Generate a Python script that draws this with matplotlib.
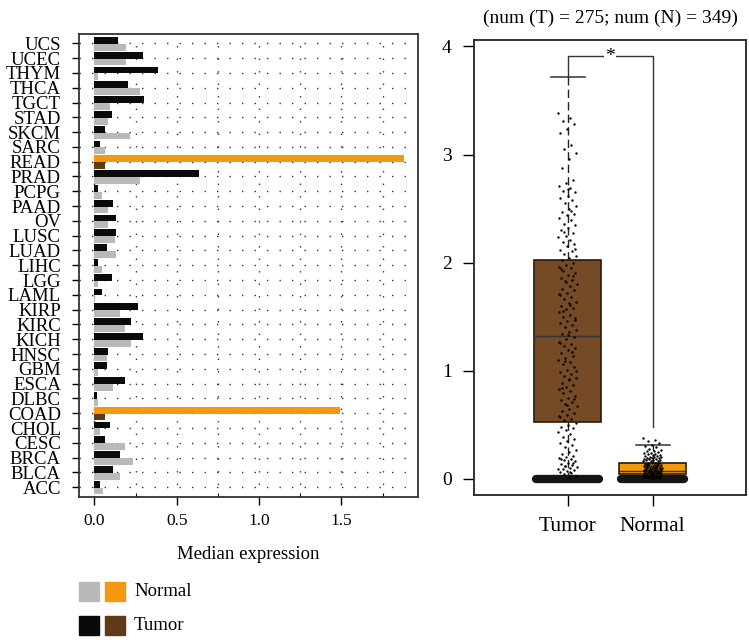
import numpy as np
import matplotlib
matplotlib.use("Agg")
import matplotlib.pyplot as plt
from matplotlib.patches import Rectangle

plt.rcParams['font.family'] = ['Liberation Serif', 'DejaVu Serif']

# cancer types, bottom to top
cancers = ["ACC", "BLCA", "BRCA", "CESC", "CHOL", "COAD", "DLBC", "ESCA", "GBM",
           "HNSC", "KICH", "KIRC", "KIRP", "LAML", "LGG", "LIHC", "LUAD", "LUSC",
           "OV", "PAAD", "PCPG", "PRAD", "READ", "SARC", "SKCM", "STAD", "TGCT",
           "THCA", "THYM", "UCEC", "UCS"]
tumor_median = [0.034, 0.113, 0.156, 0.065, 0.095, 0.065, 0.016, 0.186, 0.077,
                0.083, 0.296, 0.223, 0.265, 0.047, 0.107, 0.022, 0.077, 0.132,
                0.132, 0.113, 0.022, 0.636, 0.065, 0.034, 0.065, 0.107, 0.302,
                0.204, 0.387, 0.296, 0.144]
normal_median = [0.053, 0.156, 0.235, 0.186, 0.034, 1.492, 0.022, 0.113, 0.022,
                 0.077, 0.223, 0.186, 0.156, 0.004, 0.022, 0.047, 0.132, 0.126,
                 0.083, 0.083, 0.047, 0.277, 1.877, 0.065, 0.217, 0.083, 0.095,
                 0.277, 0.022, 0.192, 0.192]
highlighted = ["COAD", "READ"]

# boxplot stats (right panel)
groups = ["Tumor", "Normal"]
box_q1 = [0.53, 0.045]
box_med = [1.32, 0.07]
box_q3 = [2.02, 0.147]
whisk_lo = [0.0, 0.0]
whisk_hi = [3.72, 0.31]

tumor_points = [3.38, 3.34, 3.31, 3.28, 3.24, 3.20, 3.09, 3.05, 3.01, 2.96, 2.88,
                2.76, 2.74, 2.71, 2.69, 2.66, 2.65, 2.62, 2.60, 2.58, 2.55, 2.52,
                2.50, 2.47, 2.45, 2.44, 2.41, 2.39, 2.36, 2.35, 2.32, 2.30, 2.27,
                2.25, 2.24, 2.21, 2.19, 2.17, 2.15, 2.12, 2.11, 2.08, 2.06, 2.04,
                2.02, 2.00, 1.98, 1.96, 1.95, 1.92, 1.90, 1.89, 1.86, 1.84, 1.83,
                1.80, 1.78, 1.76, 1.75, 1.72, 1.70, 1.68, 1.66, 1.64, 1.63, 1.60,
                1.58, 1.57, 1.54, 1.52, 1.50, 1.49, 1.46, 1.44, 1.42, 1.40, 1.38,
                1.36, 1.34, 1.31, 1.29, 1.27, 1.25, 1.23, 1.21, 1.19, 1.16, 1.14,
                1.12, 1.10, 1.08, 1.06, 1.03, 1.01, 0.99, 0.97, 0.95, 0.93, 0.91,
                0.89, 0.87, 0.85, 0.83, 0.81, 0.79, 0.77, 0.75, 0.73, 0.71, 0.69,
                0.67, 0.65, 0.63, 0.61, 0.59, 0.57, 0.55, 0.54, 0.52, 0.50, 0.48,
                0.47, 0.45, 0.43, 0.41, 0.39, 0.37, 0.35, 0.33, 0.31, 0.29, 0.27,
                0.25, 0.23, 0.21, 0.20, 0.19, 0.18, 0.17, 0.16, 0.15, 0.14, 0.13,
                0.12, 0.11, 0.10, 0.09, 0.08, 0.07, 0.06, 0.05, 0.04, 0.03, 0.02,
                1.94, 1.88, 1.82, 1.71, 1.61, 1.55, 1.47, 1.33, 1.26, 1.17, 1.09,
                1.00, 0.92, 0.84, 0.74, 0.68, 0.58, 2.48, 2.28, 2.13, 2.68, 0.18,
                0.15, 0.12, 0.09, 0.06]
normal_points = [0.38, 0.36, 0.35, 0.33, 0.31, 0.30, 0.29, 0.28, 0.27, 0.26, 0.26,
                 0.25, 0.24, 0.24, 0.23, 0.23, 0.22, 0.22, 0.21, 0.21, 0.20, 0.20,
                 0.20, 0.19, 0.19, 0.19, 0.18, 0.18, 0.18, 0.17, 0.17, 0.17, 0.16,
                 0.16, 0.16, 0.15, 0.15, 0.15, 0.15, 0.14, 0.14, 0.14, 0.13, 0.13,
                 0.13, 0.13, 0.12, 0.12, 0.12, 0.12, 0.11, 0.11, 0.11, 0.11, 0.10,
                 0.10, 0.10, 0.10, 0.09, 0.09, 0.09, 0.09, 0.08, 0.08, 0.08, 0.08,
                 0.07, 0.07, 0.07, 0.07, 0.06, 0.06, 0.06, 0.06, 0.05, 0.05, 0.05,
                 0.05, 0.04, 0.04, 0.04, 0.04, 0.03, 0.03, 0.03, 0.03, 0.02, 0.02,
                 0.02, 0.02, 0.01, 0.01, 0.01, 0.01, 0.03, 0.05, 0.07, 0.09, 0.11,
                 0.13, 0.06, 0.04, 0.08, 0.10, 0.12, 0.02, 0.05, 0.03, 0.07, 0.09]

BLACK = "#0a0a0a"
GREY = "#b9b9b7"
ORANGE = "#f3980f"
BROWN = "#5e3a17"
BOX_BROWN = "#754a25"

fig = plt.figure(figsize=(7.49, 6.42), dpi=100)

# ---- left panel: median expression bars
ax1 = fig.add_axes([79/749, 1 - 496.7/642, (417.7 - 79)/749, (496.7 - 34)/642])
ypos = np.arange(len(cancers))
top_vals, bot_vals, top_cols, bot_cols = [], [], [], []
for c, t, n in zip(cancers, tumor_median, normal_median):
    if c in highlighted:
        top_vals.append(n); bot_vals.append(t)
        top_cols.append(ORANGE); bot_cols.append(BROWN)
    else:
        top_vals.append(t); bot_vals.append(n)
        top_cols.append(BLACK); bot_cols.append(GREY)
ax1.barh(ypos + 0.2, top_vals, height=0.46, color=top_cols, zorder=3)
ax1.barh(ypos - 0.26, bot_vals, height=0.46, color=bot_cols, zorder=3)

ax1.set_xlim(-0.093, 1.963)
ax1.set_ylim(-0.64, 30.63)
ax1.set_yticks(ypos)
ax1.set_yticklabels(cancers, fontsize=13.5)
ax1.set_xticks([0, 0.5, 1.0, 1.5])
ax1.set_xticklabels(["0.0", "0.5", "1.0", "1.5"], fontsize=12.5)
ax1.set_xticks(np.arange(0.25, 1.9, 0.5), minor=True)
ax1.tick_params(axis='x', which='major', direction='out', length=6, width=1, pad=6)
ax1.tick_params(axis='x', which='minor', direction='in', length=3, width=0.8)
ax1.tick_params(axis='y', direction='out', length=5, width=1, pad=8)
for x in np.arange(0, 1.95, 0.25):
    ax1.axvline(x, color='#333333', lw=1, ls=(0, (1, 8)), zorder=1)
for y in ypos:
    ax1.axhline(y, color='#333333', lw=1, ls=(0, (1, 8)), zorder=1)
for s in ax1.spines.values():
    s.set_linewidth(1.3)
    s.set_color('#333333')
ax1.set_xlabel("Median expression", fontsize=13.5, labelpad=12)

# legend squares
for i, (c1, c2, lab) in enumerate([(GREY, ORANGE, "Normal"), (BLACK, BROWN, "Tumor")]):
    yb = 582 + i * 34
    fig.patches.append(Rectangle((79/749, 1 - (yb + 19)/642), 20/749, 19/642,
                                 transform=fig.transFigure, color=c1))
    fig.patches.append(Rectangle((105/749, 1 - (yb + 19)/642), 20/749, 19/642,
                                 transform=fig.transFigure, color=c2))
    fig.text(134/749, 1 - (yb + 10)/642, lab, fontsize=13.5, va='center')

# ---- right panel: boxplot with jittered points
ax2 = fig.add_axes([474/749, 1 - 495/642, 272/749, 455/642])
stats = []
for g, q1, m, q3, lo, hi in zip(groups, box_q1, box_med, box_q3, whisk_lo, whisk_hi):
    stats.append(dict(label=g, q1=q1, med=m, q3=q3, whislo=lo, whishi=hi, fliers=[]))
bp = ax2.bxp(stats, positions=[1, 2], widths=0.79, patch_artist=True, showcaps=False,
             boxprops=dict(linewidth=1.2, edgecolor='#2a1a0a'),
             medianprops=dict(color='#333333', linewidth=1),
             whiskerprops=dict(color='#222222', linewidth=1, linestyle=(0, (6, 3))))
for patch, col in zip(bp['boxes'], [BOX_BROWN, ORANGE]):
    patch.set_facecolor(col)
for pos, hi, lo in zip([1, 2], whisk_hi, whisk_lo):
    ax2.plot([pos - 0.2, pos + 0.2], [hi, hi], color='#333333', lw=1.1, zorder=4)
    ax2.plot([pos - 0.37, pos + 0.37], [lo, lo], color='#141410', lw=6,
             solid_capstyle='round', zorder=5)

# deterministic jitter for the points
for pos, vals in zip([1, 2], [tumor_points, normal_points]):
    k = np.arange(len(vals))
    jit = ((k * 0.618034) % 1.0 - 0.5) * 0.22
    ax2.scatter(pos + jit, vals, s=3, color='black', zorder=6, linewidths=0)

# significance bracket
ax2.plot([1, 1, 2, 2], [3.72, 3.91, 3.91, 0.48], color='#333333', lw=1, zorder=4)
ax2.text(1.5, 3.91, "*", ha='center', va='center', fontsize=14,
         bbox=dict(facecolor='white', edgecolor='none', pad=1), zorder=5)

ax2.set_xlim(-0.1, 3.1)
ax2.set_ylim(-0.15, 4.06)
ax2.set_yticks([0, 1, 2, 3, 4])
ax2.set_yticklabels(["0", "1", "2", "3", "4"], fontsize=14)
ax2.set_xticks([1, 2])
ax2.set_xticklabels(groups, fontsize=15.5)
ax2.tick_params(axis='both', direction='out', length=8, width=1, pad=8)
for s in ax2.spines.values():
    s.set_linewidth(1.3)
    s.set_color('#222222')
ax2.set_title("(num (T) = 275; num (N) = 349)", fontsize=14, pad=12)

fig.savefig("out.png", dpi=100)
